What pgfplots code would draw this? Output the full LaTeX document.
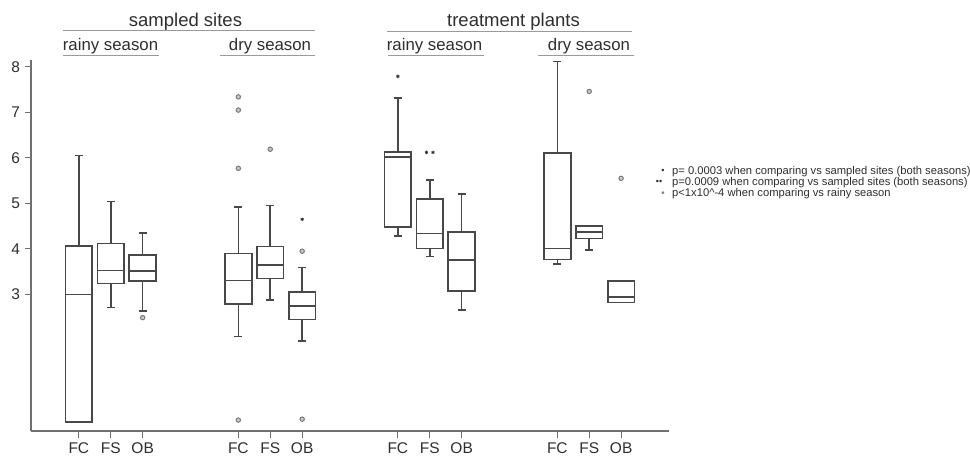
\documentclass[border=0pt]{standalone}
\usepackage{fontspec}
\setmainfont{Liberation Sans}
\newfontfamily\dejavu{DejaVu Sans}
\usepackage{pgfplots}
\pgfplotsset{compat=1.18}
\usepgfplotslibrary{statistics}
\definecolor{boxc}{HTML}{484848}
\definecolor{axc}{HTML}{707070}
\definecolor{txtc}{HTML}{2E2E2E}
\definecolor{ulc}{HTML}{9A9A9A}
\definecolor{outc}{HTML}{7A7A7A}
\begin{document}
\begin{tikzpicture}
\begin{axis}[
  at={(0,0)}, anchor=south west, scale only axis,
  width=638pt, height=371pt,
  xmin=-1.5, xmax=18.5, ymin=0, ymax=8.15,
  axis x line*=bottom, axis y line*=left,
  axis line style={-, draw=axc, line width=1.6pt},
  tick align=outside, tick pos=left,
  major tick length=6.5pt,
  tick style={draw=axc, line width=0.9pt},
  xtick={0,1,2,5,6,7,10,11,12,15,16,17},
  xticklabels={FC,FS,OB,FC,FS,OB,FC,FS,OB,FC,FS,OB},
  ytick={3,4,5,6,7,8},
  /pgf/number format/assume math mode=true,
  ticklabel style={font=\fontsize{15.5}{18}\selectfont, text=txtc},
  xticklabel style={yshift=-1.5pt},
  yticklabel style={xshift=-1pt},
  clip=false,
  boxplot/draw direction=y,
  boxplot/box extend=0.84,
  boxplot/whisker extend=0.25,
  boxplot/every box/.style={draw=boxc, line width=1.6pt},
  boxplot/every whisker/.style={draw=boxc, line width=1.6pt},
  boxplot/every median/.style={draw=boxc, line width=1.6pt},
]
% group 1: sampled sites, rainy
\addplot[draw=boxc, boxplot prepared={draw position=0, lower whisker=0.20, lower quartile=0.20, median=3.00, upper quartile=4.06, upper whisker=6.05}] coordinates {};
\addplot[draw=boxc, boxplot prepared={draw position=1, lower whisker=2.71, lower quartile=3.24, median=3.53, upper quartile=4.12, upper whisker=5.04}] coordinates {};
\addplot[draw=boxc, boxplot prepared={draw position=2, lower whisker=2.64, lower quartile=3.29, median=3.51, upper quartile=3.87, upper whisker=4.35}] coordinates {};
% group 2: sampled sites, dry
\addplot[draw=boxc, boxplot prepared={draw position=5, lower whisker=2.08, lower quartile=2.79, median=3.31, upper quartile=3.90, upper whisker=4.92}] coordinates {};
\addplot[draw=boxc, boxplot prepared={draw position=6, lower whisker=2.88, lower quartile=3.35, median=3.65, upper quartile=4.05, upper whisker=4.95}] coordinates {};
\addplot[draw=boxc, boxplot prepared={draw position=7, lower whisker=1.98, lower quartile=2.45, median=2.74, upper quartile=3.06, upper whisker=3.59}] coordinates {};
% group 3: treatment plants, rainy
\addplot[draw=boxc, boxplot prepared={draw position=10, lower whisker=4.28, lower quartile=4.48, median=6.02, upper quartile=6.13, upper whisker=7.31}] coordinates {};
\addplot[draw=boxc, boxplot prepared={draw position=11, lower whisker=3.83, lower quartile=4.01, median=4.34, upper quartile=5.10, upper whisker=5.51}] coordinates {};
\addplot[draw=boxc, boxplot prepared={draw position=12, lower whisker=2.66, lower quartile=3.07, median=3.76, upper quartile=4.37, upper whisker=5.20}] coordinates {};
% group 4: treatment plants, dry
\addplot[draw=boxc, boxplot prepared={draw position=15, lower whisker=3.67, lower quartile=3.77, median=4.01, upper quartile=6.11, upper whisker=8.12}] coordinates {};
\addplot[draw=boxc, boxplot prepared={draw position=16, lower whisker=3.98, lower quartile=4.23, median=4.37, upper quartile=4.50, upper whisker=4.50}] coordinates {};
\addplot[draw=boxc, boxplot prepared={draw position=17, lower whisker=2.82, lower quartile=2.82, median=2.94, upper quartile=3.29, upper whisker=3.29, whisker extend=0}] coordinates {};
% outliers
\addplot[only marks, mark=*, mark size=2.2pt, mark options={draw=outc, fill=white!60!outc, line width=1pt}] coordinates {
 (2,2.49) (5,7.34) (5,7.05) (5,5.77) (5,0.24) (6,6.19) (7,3.95) (7,0.26) (16,7.46) (17,5.55)};
% significance markers
\addplot[only marks, mark=asterisk, mark size=1.7pt, mark options={draw=txtc, line width=0.8pt}] coordinates {
 (10,7.79) (10.9,6.12) (11.1,6.12) (7,4.65)};
\end{axis}
\begin{scope}[shift={(-31pt,431pt)},x=1pt,y=-1pt]
\tikzset{ul/.style={draw=ulc, line width=1pt}}
\node[anchor=base, inner sep=0, text=txtc, font=\fontsize{18.5}{20}\selectfont] at (185.5,26.5) {sampled sites};
\draw[ul] (63,31) -- (315,31);
\node[anchor=base, inner sep=0, text=txtc, font=\fontsize{16.8}{19}\selectfont] at (110.5,50.5) {rainy season};
\draw[ul] (63,56) -- (159,56);
\node[anchor=base, inner sep=0, text=txtc, font=\fontsize{16.8}{19}\selectfont] at (270,50.5) {dry season};
\draw[ul] (220,56) -- (315,56);
\node[anchor=base, inner sep=0, text=txtc, font=\fontsize{18.5}{20}\selectfont] at (513.5,26.5) {treatment plants};
\draw[ul] (387,31.5) -- (632,31.5);
\node[anchor=base, inner sep=0, text=txtc, font=\fontsize{16.8}{19}\selectfont] at (434.5,50.5) {rainy season};
\draw[ul] (388,56) -- (484,56);
\node[anchor=base, inner sep=0, text=txtc, font=\fontsize{16.8}{19}\selectfont] at (589,50.5) {dry season};
\draw[ul] (538,56) -- (634,56);
% annotation key
\tikzset{lg/.style={anchor=west, inner sep=0, text=txtc, font=\fontsize{11.2}{12}\selectfont}}
\node[lg] at (672,171.5) {p= 0.0003 when comparing vs sampled sites (both seasons)};
\node[lg] at (672,182.5) {p=0.0009 when comparing vs sampled sites (both seasons)};
\node[lg] at (672,194) {p<1x10\^{}-4 when comparing vs rainy season};
\node[anchor=center, inner sep=0, text=txtc, font=\fontsize{9}{10}\selectfont] at (663,171.5) {•};
\node[anchor=center, inner sep=0, text=txtc, font=\fontsize{9}{10}\selectfont] at (659,182.5) {••};
\node[anchor=center, inner sep=0, text=outc, font=\dejavu\fontsize{9}{10}\selectfont] at (663,194) {•};
\pgfresetboundingbox
\path[use as bounding box] (0,0) rectangle (970,456);
\end{scope}
\end{tikzpicture}
\end{document}
